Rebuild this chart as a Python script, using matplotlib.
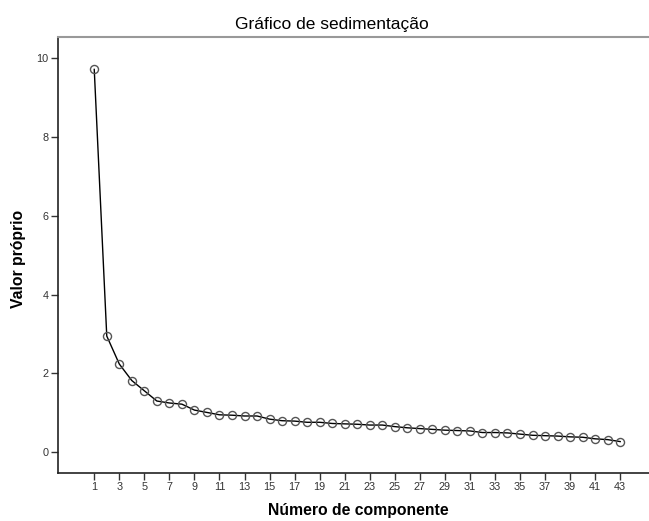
import numpy as np
import matplotlib
matplotlib.use("Agg")
import matplotlib.pyplot as plt

plt.rcParams['font.family'] = ['Liberation Sans', 'DejaVu Sans']

componentes = list(range(1, 44))
valores_proprios = [
    9.72, 2.95, 2.24, 1.82, 1.56, 1.30, 1.25, 1.22, 1.07, 1.01,
    0.95, 0.94, 0.92, 0.92, 0.84, 0.80, 0.79, 0.76, 0.76, 0.73,
    0.72, 0.71, 0.69, 0.69, 0.65, 0.62, 0.60, 0.58, 0.56, 0.55,
    0.54, 0.50, 0.50, 0.49, 0.46, 0.43, 0.42, 0.41, 0.39, 0.38,
    0.34, 0.32, 0.27,
]
x_ticks = list(range(1, 44, 2))
y_ticks = [0, 2, 4, 6, 8, 10]

fig = plt.figure(figsize=(6.49, 5.21), dpi=100)
ax = fig.add_axes([58.3 / 649, 1 - 472.7 / 521, 1 - 58.3 / 649, (472.7 - 36.7) / 521])

ax.plot(componentes, valores_proprios, color='black', linewidth=1.0,
        marker='o', markersize=5.8, markerfacecolor='none',
        markeredgecolor='#555555', markeredgewidth=1.0)

ax.set_xlim(-1.87, 45.3)
ax.set_ylim(-0.52, 10.55)
ax.set_xticks(x_ticks)
ax.set_yticks(y_ticks)
ax.tick_params(axis='both', direction='out', length=5, width=1,
               labelsize=7.8, labelcolor='#333333', color='#333333', pad=2)

ax.spines['right'].set_visible(False)
ax.spines['top'].set_color('#999999')
ax.spines['top'].set_linewidth(1.5)
ax.spines['left'].set_linewidth(1.2)
ax.spines['bottom'].set_linewidth(1.2)
ax.spines['left'].set_color('#222222')
ax.spines['bottom'].set_color('#222222')

fig.text(332 / 649, 1 - 24 / 521, 'Gráfico de sedimentação', ha='center',
         va='center', fontsize=12.5, color='black')
fig.text(358 / 649, 1 - 510 / 521, 'Número de componente', ha='center',
         va='center', fontsize=11.3, fontweight='bold')
fig.text(19 / 649, 1 - 259 / 521, 'Valor próprio', ha='center',
         va='center', rotation=90, fontsize=11.3, fontweight='bold')

fig.savefig('out.png', dpi=100)
